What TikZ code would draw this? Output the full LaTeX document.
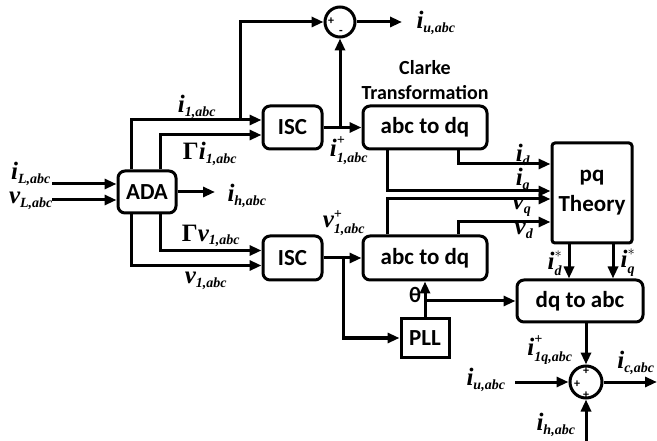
\documentclass[tikz,border=0pt]{standalone}
\usepackage{fontspec}
\usepackage{amsmath}
\usepackage{tikz}
\usetikzlibrary{arrows.meta,calc}
\newfontfamily\blockfont{Carlito}
\newfontfamily\sigfont{Liberation Serif}
\DeclareMathSizes{25}{25}{14}{10}
\newcommand{\sigsub}[2]{$\text{#1}_{\text{#2}}$}
\newcommand{\sigpls}[2]{$\text{#1}^{\text{+}}_{\text{#2}}$}
\newcommand{\sigstr}[2]{$\text{#1}^{*}_{\text{#2}}$}

\begin{document}
\begin{tikzpicture}[x=1pt,y=-1pt,
          ar/.style={-{Triangle[length=12pt,width=10pt]},line width=3pt},
          blk/.style={draw,line width=3pt,rounded corners=7pt,inner sep=0pt,align=center,
            font=\blockfont\bfseries\fontsize{23}{30}\selectfont},
          sumnode/.style={draw,circle,line width=3pt,inner sep=0pt},
          sig/.style={inner sep=0pt,font=\sigfont\bfseries\itshape\fontsize{25}{27}\selectfont},
          sgn/.style={inner sep=0pt,font=\blockfont\bfseries\fontsize{12}{12}\selectfont}]
        \useasboundingbox (0,0) rectangle (657,441);

        % blocks
        \node[blk, minimum width=58pt,  minimum height=42pt]  (ada)   at (147,192)   {ADA};
        \node[blk, minimum width=59pt,  minimum height=43pt]  (iscI)  at (292.5,127.5) {ISC};
        \node[blk, minimum width=59pt,  minimum height=44pt]  (iscV)  at (292.5,258) {ISC};
        \node[blk, minimum width=124pt, minimum height=43pt]  (clkI)  at (425,127.5) {abc to dq};
        \node[blk, minimum width=124pt, minimum height=44pt]  (clkV)  at (425,258)   {abc to dq};
        \node[blk, minimum width=80pt,  minimum height=100pt, rounded corners=3pt]
        (pq) at (592,193) {pq\\Theory};
        \node[blk, minimum width=126pt, minimum height=42pt]  (dqabc) at (580,301)   {dq to abc};
        \node[blk, minimum width=48pt,  minimum height=38pt, sharp corners] (pll) at (425,338) {PLL};
        \node[sumnode, minimum size=30pt] (sumU) at (340,22)  {};
        \node[sumnode, minimum size=32pt] (sumC) at (586,382) {};
        \node[align=center, inner sep=0pt, font=\blockfont\bfseries\fontsize{20}{25}\selectfont]
        (clarke) at (425,80) {Clarke\\Transformation};

        % free ends
        \coordinate (iLin)  at (52,184);
        \coordinate (vLin)  at (52,200);
        \coordinate (ihOut) at (215,192);
        \coordinate (tapI)  at (240,120);
        \coordinate (iuOut) at (402,22);
        \coordinate (tapV)  at (343,258);
        \coordinate (iuIn)  at (515,382);
        \coordinate (ihIn)  at (586,441);
        \coordinate (icOut) at (657,382);

        % connectors
        \draw[ar] (iLin) -- (iLin -| ada.west);
        \draw[ar] (vLin) -- (vLin -| ada.west);
        \draw[ar] (ada.east) -- (ihOut);
        \draw[ar] ([xshift=15pt]ada.north west) |- ([yshift=7.5pt]iscI.west);
        \draw[ar] ([xshift=44pt]ada.north west) |- ([yshift=-7.5pt]iscI.west);
        \draw[ar] ([xshift=44pt]ada.south west) |- ([yshift=7.5pt]iscV.west);
        \draw[ar] ([xshift=15pt]ada.south west) |- ([yshift=-7.5pt]iscV.west);
        \draw[ar] (tapI) |- (sumU.west);
        \draw[ar] (sumU.east) -- (iuOut);
        \draw[ar] (iscI) -- (clkI);
        \draw[ar] (sumU |- iscI.east) -- (sumU.south);
        \draw[ar] ([xshift=33pt]clkI.south) |- ([yshift=29pt]pq.west);
        \draw[ar] ([xshift=-38pt]clkI.south) |- ([yshift=2pt]pq.west);
        \draw[ar] ([xshift=-38pt]clkV.north) |- ([yshift=-6pt]pq.west);
        \draw[ar] ([xshift=33pt]clkV.north) |- ([yshift=-29pt]pq.west);
        \draw[ar] (iscV) -- (clkV);
        \draw[ar] (tapV) |- (pll.west);
        \draw[ar] (pll) -- (clkV);
        \draw[ar] (pll.north |- dqabc.west) -- (dqabc.west);
        \draw[ar] ([xshift=-23pt]pq.south) -- ([xshift=-23pt]pq.south |- dqabc.north);
        \draw[ar] ([xshift=21pt]pq.south) -- ([xshift=21pt]pq.south |- dqabc.north);
        \draw[ar] (sumC |- dqabc.south) -- (sumC.north);
        \draw[ar] (iuIn) -- (sumC.west);
        \draw[ar] (ihIn) -- (sumC.south);
        \draw[ar] (sumC.east) -- (icOut);

        % signal labels
        \node[sig] (lbiL)  at (31,174)  {\sigsub{i}{L,abc}};
        \node[sig] (lbvL)  at (31,201)  {\sigsub{v}{L,abc}};
        \node[sig] (lbih)  at (247,196) {\sigsub{i}{h,abc}};
        \node[sig] (lbi1)  at (197,107) {\sigsub{i}{1,abc}};
        \node[sig] (lbGi)  at (210,154) {{\upshape Γ}\sigsub{i}{1,abc}};
        \node[sig] (lbGv)  at (211,236) {{\upshape Γ}\sigsub{v}{1,abc}};
        \node[sig] (lbv1)  at (206,281) {\sigsub{v}{1,abc}};
        \node[sig] (lbiu)  at (436,23)  {\sigsub{i}{u,abc}};
        \node[sig] (lbip)  at (349,151) {\sigpls{i}{1,abc}};
        \node[sig] (lbvp)  at (344,223) {\sigpls{v}{1,abc}};
        \node[sig] (lbid)  at (523,155) {\sigsub{i}{d}};
        \node[sig] (lbiq)  at (523,180) {\sigsub{i}{q}};
        \node[sig] (lbvq)  at (522,207) {\sigsub{v}{q}};
        \node[sig] (lbvd)  at (524,231) {\sigsub{v}{d}};
        \node[sig] (lbids) at (555,263) {\sigstr{i}{d}};
        \node[sig] (lbiqs) at (628,263) {\sigstr{i}{q}};
        \node[sig] (lbi1q) at (550,350) {\sigpls{i}{1q,abc}};
        \node[sig] (lbiu2) at (486,380) {\sigsub{i}{u,abc}};
        \node[sig] (lbic)  at (636,363) {\sigsub{i}{c,abc}};
        \node[sig] (lbih2) at (556,425) {\sigsub{i}{h,abc}};
        \node[inner sep=0pt, font=\blockfont\bfseries\fontsize{22}{24}\selectfont] (lbth) at (415,295) {θ};

        % signs
        \node[sgn] (sgU1) at (331,21) {+};
        \node[sgn] (sgU2) at (341,32) {-};
        \node[sgn] (sgC1) at (586,371) {+};
        \node[sgn] (sgC2) at (577,384) {+};
        \node[sgn] (sgC3) at (586,395) {+};
      \end{tikzpicture}
\end{document}
